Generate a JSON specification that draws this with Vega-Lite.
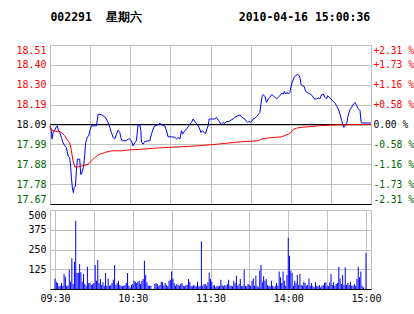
{
  "$schema": "https://vega.github.io/schema/vega-lite/v6.json",
  "background": "white",
  "padding": {"left": 15, "top": 12, "right": 0, "bottom": 0},
  "title": {
    "text": "002291\u00a0\u00a0星期六\u00a0\u00a0\u00a0\u00a0\u00a0\u00a0\u00a0\u00a0\u00a0\u00a0\u00a0\u00a0\u00a0\u00a02010-04-16\u00a015:00:36",
    "anchor": "start",
    "font": "DejaVu Sans Mono",
    "fontSize": 11.5,
    "fontWeight": "bold",
    "color": "#000000",
    "offset": 21,
    "dx": 35
  },
  "config": {
    "view": {"stroke": "#c0c0c0"},
    "axis": {
      "gridColor": "#c0c0c0",
      "gridOpacity": 1,
      "gridWidth": 1,
      "labelFont": "DejaVu Sans Mono",
      "labelFontSize": 10,
      "ticks": false,
      "domain": false,
      "title": null,
      "labelOverlap": false,
      "labelFlush": false
    }
  },
  "datasets": {
    "price": [
      {"m":0,"p":18.08},{"m":1,"p":18.057},{"m":1.5,"p":18.013},{"m":2.3,"p":18.048},{"m":3.5,"p":18.06},{"m":4.7,"p":18.078},{"m":5.5,"p":18.083},{"m":6,"p":18.066},{"m":7.2,"p":18.048},{"m":8.5,"p":18.022},{"m":9.7,"p":17.995},{"m":11,"p":17.977},{"m":12.2,"p":17.969},{"m":13.5,"p":17.924},{"m":14.7,"p":17.915},{"m":15.5,"p":17.863},{"m":16,"p":17.81},{"m":16.7,"p":17.757},{"m":17.5,"p":17.73},{"m":18,"p":17.757},{"m":19,"p":17.765},{"m":19.7,"p":17.845},{"m":20.5,"p":17.907},{"m":22.2,"p":17.907},{"m":23,"p":17.827},{"m":23.5,"p":17.827},{"m":24.2,"p":17.845},{"m":25,"p":17.863},{"m":26,"p":17.933},{"m":26.7,"p":17.995},{"m":28,"p":18.025},{"m":29,"p":18.03},{"m":29.7,"p":18.057},{"m":31,"p":18.083},{"m":34.7,"p":18.083},{"m":36,"p":18.145},{"m":38.4,"p":18.142},{"m":40.9,"p":18.131},{"m":42.2,"p":18.119},{"m":43.4,"p":18.101},{"m":44.7,"p":18.075},{"m":45.9,"p":18.048},{"m":47.2,"p":18.022},{"m":48.4,"p":18.013},{"m":49.7,"p":18.039},{"m":50.9,"p":18.06},{"m":52.2,"p":18.048},{"m":52.9,"p":18.022},{"m":53.9,"p":18.004},{"m":57,"p":18.004},{"m":58.4,"p":18.013},{"m":59.6,"p":18.013},{"m":60.9,"p":18.004},{"m":62.1,"p":17.977},{"m":63.4,"p":17.995},{"m":64.6,"p":18.004},{"m":65.9,"p":18.092},{"m":66.6,"p":18.083},{"m":67.1,"p":18.092},{"m":67.9,"p":18.057},{"m":68.4,"p":17.995},{"m":69.6,"p":17.986},{"m":70.9,"p":18.0},{"m":73.3,"p":18.004},{"m":74.6,"p":18.004},{"m":75.9,"p":18.039},{"m":77.1,"p":18.066},{"m":78.3,"p":18.083},{"m":80.8,"p":18.089},{"m":82.1,"p":18.096},{"m":83.3,"p":18.089},{"m":85.8,"p":18.083},{"m":87.1,"p":18.057},{"m":88.3,"p":18.025},{"m":90.8,"p":18.025},{"m":93.3,"p":18.022},{"m":94.6,"p":18.013},{"m":95.8,"p":18.022},{"m":97.1,"p":18.013},{"m":98.3,"p":18.057},{"m":99.1,"p":18.039},{"m":100.8,"p":18.057},{"m":102,"p":18.066},{"m":103.3,"p":18.078},{"m":104.5,"p":18.092},{"m":105.8,"p":18.101},{"m":107,"p":18.119},{"m":108.3,"p":18.106},{"m":109.5,"p":18.096},{"m":110.8,"p":18.083},{"m":112,"p":18.066},{"m":112.8,"p":18.048},{"m":113.8,"p":18.057},{"m":115.3,"p":18.048},{"m":116.3,"p":18.043},{"m":117.3,"p":18.066},{"m":118.3,"p":18.085},{"m":119,"p":18.119},{"m":121,"p":18.119},{"m":123.2,"p":18.119},{"m":124.5,"p":18.128},{"m":125.2,"p":18.119},{"m":126.2,"p":18.11},{"m":127.2,"p":18.098},{"m":128.2,"p":18.092},{"m":129.5,"p":18.101},{"m":130.7,"p":18.096},{"m":132,"p":18.106},{"m":133.7,"p":18.106},{"m":135.2,"p":18.113},{"m":137,"p":18.119},{"m":138.2,"p":18.128},{"m":140.2,"p":18.136},{"m":141.9,"p":18.14},{"m":143.2,"p":18.131},{"m":144.4,"p":18.124},{"m":145.7,"p":18.119},{"m":146.9,"p":18.106},{"m":147.7,"p":18.101},{"m":148.7,"p":18.106},{"m":150.2,"p":18.101},{"m":151.9,"p":18.119},{"m":153.2,"p":18.124},{"m":154.4,"p":18.131},{"m":155.7,"p":18.142},{"m":156.9,"p":18.154},{"m":157.7,"p":18.198},{"m":158.7,"p":18.242},{"m":159.4,"p":18.248},{"m":160.7,"p":18.237},{"m":161.9,"p":18.207},{"m":163.2,"p":18.225},{"m":164.4,"p":18.234},{"m":165.7,"p":18.248},{"m":166.9,"p":18.242},{"m":168.2,"p":18.234},{"m":169.4,"p":18.225},{"m":170.7,"p":18.234},{"m":171.9,"p":18.242},{"m":173.2,"p":18.255},{"m":174.4,"p":18.251},{"m":175.2,"p":18.265},{"m":176.2,"p":18.251},{"m":177.2,"p":18.26},{"m":178.2,"p":18.251},{"m":179.4,"p":18.26},{"m":180.1,"p":18.287},{"m":181.1,"p":18.313},{"m":182.6,"p":18.34},{"m":183.6,"p":18.348},{"m":185.1,"p":18.354},{"m":186.4,"p":18.348},{"m":187.1,"p":18.331},{"m":187.6,"p":18.304},{"m":188.6,"p":18.295},{"m":190.1,"p":18.29},{"m":191.1,"p":18.265},{"m":192.6,"p":18.258},{"m":193.6,"p":18.255},{"m":195.1,"p":18.248},{"m":196.1,"p":18.242},{"m":197.6,"p":18.225},{"m":199.4,"p":18.225},{"m":200.6,"p":18.23},{"m":201.8,"p":18.225},{"m":203.1,"p":18.248},{"m":204.3,"p":18.251},{"m":205.6,"p":18.234},{"m":206.8,"p":18.225},{"m":207.6,"p":18.242},{"m":208.6,"p":18.234},{"m":210.1,"p":18.225},{"m":211.1,"p":18.216},{"m":212.6,"p":18.207},{"m":214.3,"p":18.189},{"m":215.6,"p":18.172},{"m":216.8,"p":18.145},{"m":218.1,"p":18.11},{"m":218.8,"p":18.092},{"m":219.6,"p":18.075},{"m":220.6,"p":18.083},{"m":221.8,"p":18.092},{"m":222.6,"p":18.128},{"m":223.6,"p":18.154},{"m":224.6,"p":18.172},{"m":225.6,"p":18.181},{"m":226.8,"p":18.198},{"m":228.1,"p":18.207},{"m":229.3,"p":18.189},{"m":230.6,"p":18.172},{"m":231.8,"p":18.163},{"m":232.6,"p":18.101},{"m":233.6,"p":18.098},{"m":236.8,"p":18.098},{"m":240,"p":18.098}
    ],
    "avg": [
      {"m":0,"a":18.085},{"m":1,"a":18.06},{"m":2.3,"a":18.057},{"m":6,"a":18.053},{"m":8.5,"a":18.048},{"m":11,"a":18.03},{"m":13.5,"a":18.004},{"m":14.7,"a":17.995},{"m":16,"a":17.951},{"m":17.2,"a":17.898},{"m":18.5,"a":17.866},{"m":21,"a":17.866},{"m":23.5,"a":17.871},{"m":26,"a":17.874},{"m":28.4,"a":17.88},{"m":31,"a":17.898},{"m":33.4,"a":17.915},{"m":36,"a":17.93},{"m":40.9,"a":17.942},{"m":45.9,"a":17.951},{"m":53.4,"a":17.951},{"m":59.6,"a":17.956},{"m":65.9,"a":17.958},{"m":78.3,"a":17.965},{"m":88.3,"a":17.969},{"m":103.3,"a":17.974},{"m":113.8,"a":17.979},{"m":120.2,"a":17.983},{"m":130.7,"a":17.99},{"m":143.2,"a":17.999},{"m":155.7,"a":18.004},{"m":158.2,"a":18.013},{"m":161.9,"a":18.018},{"m":168.2,"a":18.022},{"m":173.2,"a":18.025},{"m":178.2,"a":18.039},{"m":180.2,"a":18.048},{"m":182,"a":18.064},{"m":184.4,"a":18.071},{"m":188.1,"a":18.075},{"m":193.1,"a":18.078},{"m":200.6,"a":18.083},{"m":210.6,"a":18.087},{"m":223.1,"a":18.089},{"m":240,"a":18.09}
    ],
    "vol": [
      {"m":0,"v":67},{"m":1,"v":46},{"m":2,"v":38},{"m":3,"v":17},{"m":4,"v":21},{"m":5,"v":38},{"m":6,"v":21},{"m":7,"v":95},{"m":8,"v":78},{"m":9,"v":21},
      {"m":10,"v":21},{"m":11,"v":122},{"m":12,"v":46},{"m":13,"v":194},{"m":14,"v":32},{"m":15,"v":173},{"m":16,"v":432},{"m":17,"v":101},{"m":18,"v":101},{"m":19,"v":158},
      {"m":20,"v":106},{"m":21,"v":46},{"m":22,"v":95},{"m":23,"v":32},{"m":24,"v":21},{"m":25,"v":141},{"m":26,"v":38},{"m":27,"v":38},{"m":28,"v":25},{"m":29,"v":32},
      {"m":30,"v":38},{"m":31,"v":152},{"m":32,"v":53},{"m":33,"v":184},{"m":34,"v":38},{"m":35,"v":63},{"m":36,"v":25},{"m":37,"v":42},{"m":38,"v":21},{"m":39,"v":101},
      {"m":40,"v":21},{"m":41,"v":67},{"m":42,"v":21},{"m":43,"v":25},{"m":44,"v":38},{"m":45,"v":59},{"m":46,"v":152},{"m":47,"v":25},{"m":48,"v":38},{"m":49,"v":53},
      {"m":50,"v":25},{"m":51,"v":21},{"m":52,"v":17},{"m":53,"v":21},{"m":54,"v":25},{"m":55,"v":38},{"m":56,"v":101},{"m":57,"v":21},{"m":58,"v":10},{"m":59,"v":25},
      {"m":60,"v":32},{"m":61,"v":53},{"m":62,"v":46},{"m":63,"v":38},{"m":64,"v":46},{"m":65,"v":53},{"m":66,"v":32},{"m":67,"v":53},{"m":68,"v":63},{"m":69,"v":179},
      {"m":70,"v":89},{"m":71,"v":42},{"m":72,"v":21},{"m":73,"v":21},{"m":74,"v":21},{"m":75,"v":0},{"m":76,"v":0},{"m":77,"v":32},{"m":78,"v":38},{"m":79,"v":32},
      {"m":80,"v":17},{"m":81,"v":25},{"m":82,"v":46},{"m":83,"v":42},{"m":84,"v":21},{"m":85,"v":38},{"m":86,"v":25},{"m":87,"v":17},{"m":88,"v":53},{"m":89,"v":59},
      {"m":90,"v":110},{"m":91,"v":67},{"m":92,"v":38},{"m":93,"v":21},{"m":94,"v":32},{"m":95,"v":25},{"m":96,"v":21},{"m":97,"v":32},{"m":98,"v":38},{"m":99,"v":21},
      {"m":100,"v":17},{"m":101,"v":25},{"m":102,"v":25},{"m":103,"v":63},{"m":104,"v":46},{"m":105,"v":21},{"m":106,"v":17},{"m":107,"v":25},{"m":108,"v":21},{"m":109,"v":17},
      {"m":110,"v":46},{"m":111,"v":17},{"m":112,"v":21},{"m":113,"v":300},{"m":114,"v":21},{"m":115,"v":32},{"m":116,"v":32},{"m":117,"v":21},{"m":118,"v":42},{"m":119,"v":105},
      {"m":120,"v":63},
      {"m":121,"v":46},{"m":122,"v":21},{"m":123,"v":25},{"m":124,"v":11},{"m":125,"v":21},{"m":126,"v":17},{"m":127,"v":21},{"m":128,"v":59},{"m":129,"v":25},{"m":130,"v":17},
      {"m":131,"v":25},{"m":132,"v":21},{"m":133,"v":32},{"m":134,"v":59},{"m":135,"v":21},{"m":136,"v":21},{"m":137,"v":17},{"m":138,"v":53},{"m":139,"v":38},{"m":140,"v":84},
      {"m":141,"v":21},{"m":142,"v":32},{"m":143,"v":63},{"m":144,"v":17},{"m":145,"v":21},{"m":146,"v":122},{"m":147,"v":21},{"m":148,"v":17},{"m":149,"v":32},{"m":150,"v":25},
      {"m":151,"v":21},{"m":152,"v":53},{"m":153,"v":67},{"m":154,"v":21},{"m":155,"v":84},{"m":156,"v":21},{"m":157,"v":11},{"m":158,"v":116},{"m":159,"v":152},{"m":160,"v":42},
      {"m":161,"v":80},{"m":162,"v":53},{"m":163,"v":63},{"m":164,"v":25},{"m":165,"v":21},{"m":166,"v":17},{"m":167,"v":53},{"m":168,"v":21},{"m":169,"v":11},{"m":170,"v":21},
      {"m":171,"v":38},{"m":172,"v":21},{"m":173,"v":110},{"m":174,"v":74},{"m":175,"v":38},{"m":176,"v":110},{"m":177,"v":53},{"m":178,"v":21},{"m":179,"v":89},{"m":180,"v":325},
      {"m":181,"v":211},{"m":182,"v":116},{"m":183,"v":101},{"m":184,"v":21},{"m":185,"v":53},{"m":186,"v":38},{"m":187,"v":89},{"m":188,"v":25},{"m":189,"v":95},{"m":190,"v":25},
      {"m":191,"v":21},{"m":192,"v":46},{"m":193,"v":38},{"m":194,"v":21},{"m":195,"v":25},{"m":196,"v":67},{"m":197,"v":21},{"m":198,"v":38},{"m":199,"v":17},{"m":200,"v":11},
      {"m":201,"v":42},{"m":202,"v":21},{"m":203,"v":17},{"m":204,"v":25},{"m":205,"v":11},{"m":206,"v":21},{"m":207,"v":25},{"m":208,"v":38},{"m":209,"v":42},{"m":210,"v":21},
      {"m":211,"v":17},{"m":212,"v":42},{"m":213,"v":95},{"m":214,"v":25},{"m":215,"v":42},{"m":216,"v":21},{"m":217,"v":32},{"m":218,"v":38},{"m":219,"v":141},{"m":220,"v":67},
      {"m":221,"v":32},{"m":222,"v":89},{"m":223,"v":25},{"m":224,"v":137},{"m":225,"v":25},{"m":226,"v":38},{"m":227,"v":25},{"m":228,"v":46},{"m":229,"v":21},{"m":230,"v":21},
      {"m":231,"v":32},{"m":232,"v":21},{"m":233,"v":63},{"m":234,"v":141},{"m":235,"v":74},{"m":236,"v":110},{"m":237,"v":21},{"m":238,"v":11},{"m":239,"v":0},{"m":240,"v":228}
    ]
  },
  "bounds": "flush",
  "spacing": 6,
  "vconcat": [
    {
      "width": 321,
      "height": 159,
      "layer": [
        {
          "data": {"values": [{"pct": 0}]},
          "mark": {"type": "rule", "color": "#000000", "strokeWidth": 1},
          "encoding": {
            "y": {
              "field": "pct",
              "type": "quantitative",
              "scale": {"domain": [-2.31, 2.31], "nice": false, "zero": false},
              "axis": {
                "orient": "right",
                "grid": false,
                "values": [-2.31, -1.7325, -1.155, -0.5775, 0, 0.5775, 1.155, 1.7325, 2.31],
                "labelExpr": "['-2.31 %','-1.73 %','-1.16 %','-0.58 %','\u00a00.00 %','+0.58 %','+1.16 %','+1.73 %','+2.31 %'][round((datum.value + 2.31) / 0.5775)]",
                "labelPadding": 2,
                "labelFontSize": 9.6,
                "labelFlush": true,
                "labelColor": {"condition": [{"test": "datum.value > 0.01", "value": "#ff0000"}, {"test": "datum.value < -0.01", "value": "#006400"}], "value": "#000000"}
              }
            }
          }
        },
        {
          "data": {"name": "price"},
          "mark": {"type": "line", "color": "#0000ff", "strokeWidth": 1},
          "encoding": {
            "x": {
              "field": "m",
              "type": "quantitative",
              "scale": {"domain": [0, 240], "nice": false, "zero": false},
              "axis": {"values": [0, 30, 60, 90, 120, 150, 180, 210, 240], "grid": true, "labels": false, "domain": true, "domainColor": "#000000", "domainWidth": 1}
            },
            "y": {
              "field": "p",
              "type": "quantitative",
              "scale": {"domain": [17.67, 18.51], "nice": false, "zero": false},
              "axis": {
                "orient": "left",
                "grid": true,
                "values": [17.67, 17.775, 17.88, 17.985, 18.09, 18.195, 18.3, 18.405, 18.51],
                "labelExpr": "['17.67','17.78','17.88','17.99','18.09','18.19','18.30','18.40','18.51'][round((datum.value - 17.67) / 0.105)]",
                "labelPadding": 4,
                "labelFlush": true,
                "labelColor": {"condition": [{"test": "datum.value > 18.1", "value": "#ff0000"}, {"test": "datum.value < 18.08", "value": "#006400"}], "value": "#000000"}
              }
            }
          }
        },
        {
          "data": {"name": "avg"},
          "mark": {"type": "line", "color": "#ff0000", "strokeWidth": 1},
          "encoding": {
            "x": {"field": "m", "type": "quantitative", "scale": {"domain": [0, 240], "nice": false, "zero": false}},
            "y": {"field": "a", "type": "quantitative", "scale": {"domain": [17.67, 18.51], "nice": false, "zero": false}, "axis": null}
          }
        }
      ],
      "resolve": {"scale": {"y": "independent"}, "axis": {"y": "independent"}}
    },
    {
      "width": 321,
      "height": 79,
      "data": {"name": "vol"},
      "mark": {"type": "bar", "color": "#0000ff", "size": 1},
      "encoding": {
        "x": {
          "field": "m",
          "type": "quantitative",
          "scale": {"domain": [0, 240], "nice": false, "zero": false},
          "axis": {
            "values": [0, 30, 60, 90, 120, 150, 180, 210, 240],
            "grid": true,
            "domain": true,
            "domainColor": "#000000",
            "labelPadding": 4,
            "labelColor": "#000000",
            "labelExpr": "datum.value == 0 ? '09:30' : datum.value == 60 ? '10:30' : datum.value == 120 ? '11:30' : datum.value == 180 ? '14:00' : datum.value == 240 ? '15:00' : ''"
          }
        },
        "y": {
          "field": "v",
          "type": "quantitative",
          "scale": {"domain": [0, 500], "nice": false},
          "axis": {
            "values": [0, 125, 250, 375, 500],
            "grid": true,
            "labelPadding": 4,
            "labelFlush": true,
            "labelColor": "#000000",
            "labelExpr": "datum.value == 0 ? '' : datum.label"
          }
        }
      }
    }
  ]
}
